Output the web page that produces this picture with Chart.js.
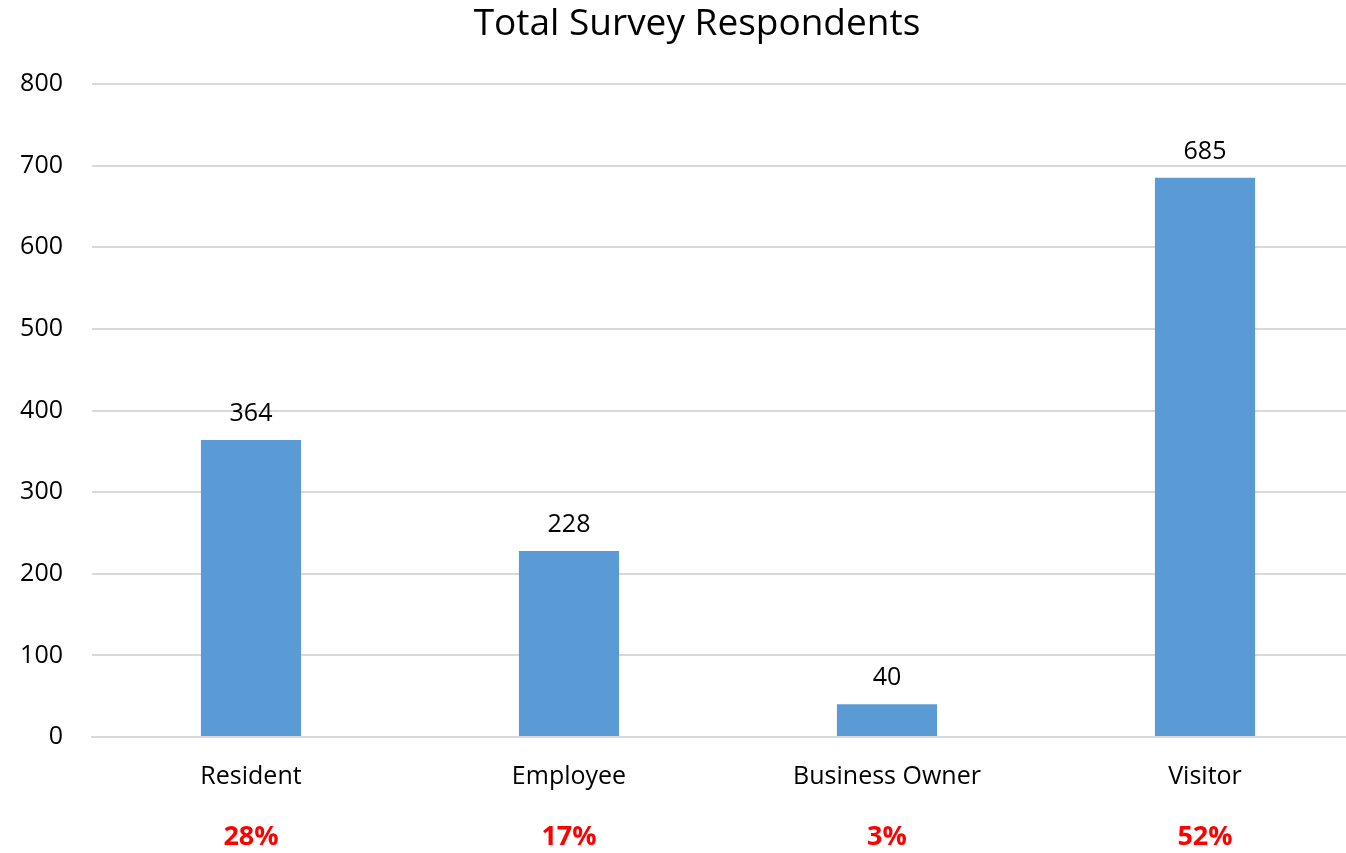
<!DOCTYPE html>
<html>
<head>
<meta charset="utf-8">
<title>Total Survey Respondents</title>
<script src="https://cdn.jsdelivr.net/npm/chart.js@4.4.1/dist/chart.umd.min.js"></script>
<style>
  html, body { margin: 0; padding: 0; background: #fff; overflow: hidden; }
  #wrap { width: 1394px; height: 853px; }
</style>
</head>
<body>
<div id="wrap"><canvas id="chart"></canvas></div>
<script>
const chartTitle = "Total Survey Respondents";
const categories = ["Resident", "Employee", "Business Owner", "Visitor"];
const respondents = [364, 228, 40, 685];
const shares = ["28%", "17%", "3%", "52%"];
const yTicks = [0, 100, 200, 300, 400, 500, 600, 700, 800];

const FONT = "'Open Sans', 'Noto Sans', sans-serif";

// title centred on the full canvas width
const topTitle = {
  id: "topTitle",
  afterDraw(chart) {
    const ctx = chart.ctx;
    ctx.save();
    ctx.font = "37px " + FONT;
    ctx.fillStyle = "#000";
    ctx.textAlign = "center";
    ctx.textBaseline = "middle";
    ctx.fillText(chartTitle, chart.width / 2, 24);
    ctx.restore();
  }
};

// value above each bar
const valueLabels = {
  id: "valueLabels",
  afterDatasetsDraw(chart) {
    const ctx = chart.ctx;
    const meta = chart.getDatasetMeta(0);
    ctx.save();
    ctx.font = "25px " + FONT;
    ctx.fillStyle = "#000";
    ctx.textAlign = "center";
    ctx.textBaseline = "middle";
    meta.data.forEach((bar, i) => {
      ctx.fillText(String(respondents[i]), bar.x, bar.y - 26);
    });
    ctx.restore();
  }
};

// red share row under the category names
const shareLabels = {
  id: "shareLabels",
  afterDraw(chart) {
    const ctx = chart.ctx;
    const x = chart.scales.x;
    ctx.save();
    ctx.font = "bold 27px " + FONT;
    ctx.fillStyle = "#FF0000";
    ctx.textAlign = "center";
    ctx.textBaseline = "middle";
    categories.forEach((c, i) => {
      ctx.fillText(shares[i], x.getPixelForValue(i), chart.chartArea.bottom + 100);
    });
    ctx.restore();
  }
};

new Chart(document.getElementById("chart"), {
  type: "bar",
  data: {
    labels: categories,
    datasets: [{
      data: respondents,
      backgroundColor: "#5B9BD5",
      categoryPercentage: 1,
      barPercentage: 0.315
    }]
  },
  options: {
    responsive: true,
    maintainAspectRatio: false,
    animation: false,
    layout: { padding: { left: 12, right: 30, top: 84, bottom: 44 } },
    plugins: {
      legend: { display: false },
      tooltip: { enabled: false },
      title: { display: false }
    },
    scales: {
      x: {
        afterFit(scale) {
          scale.paddingLeft = 0;
          scale.paddingRight = 0;
        },
        grid: { display: false },
        border: { color: "#D9D9D9", width: 2 },
        ticks: {
          color: "#000",
          font: { family: FONT, size: 25 },
          padding: 17,
          maxRotation: 0
        }
      },
      y: {
        min: 0,
        max: 800,
        afterFit(scale) {
          scale.width = 80;
        },
        afterBuildTicks(scale) {
          scale.ticks = yTicks.map(v => ({ value: v }));
        },
        grid: { color: "#D9D9D9", lineWidth: 2, drawTicks: false },
        border: { display: false },
        ticks: {
          color: "#000",
          font: { family: FONT, size: 25 },
          padding: 29
        }
      }
    }
  },
  plugins: [topTitle, valueLabels, shareLabels]
});
</script>
</body>
</html>
